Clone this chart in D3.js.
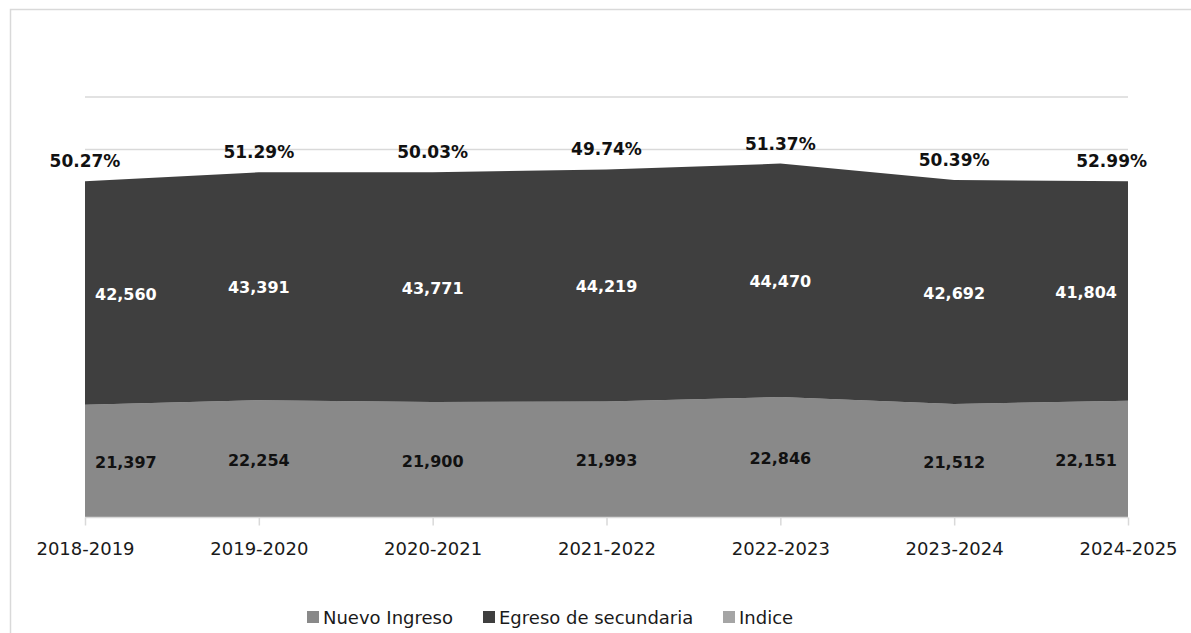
<!DOCTYPE html>
<html>
<head>
<meta charset="utf-8">
<script src="https://cdn.jsdelivr.net/npm/d3@7"></script>
<style>
  html, body { margin: 0; padding: 0; background: #fff; }
  svg { display: block; font-family: "DejaVu Sans", sans-serif; }
</style>
</head>
<body>
<svg id="chart" width="1191" height="633"></svg>
<script>
const categories = ["2018-2019", "2019-2020", "2020-2021", "2021-2022", "2022-2023", "2023-2024", "2024-2025"];
const nuevoIngreso = [21397, 22254, 21900, 21993, 22846, 21512, 22151];
const egresoSecundaria = [42560, 43391, 43771, 44219, 44470, 42692, 41804];
const indice = [50.27, 51.29, 50.03, 49.74, 51.37, 50.39, 52.99];
const seriesNames = ["Nuevo Ingreso", "Egreso de secundaria", "Indice"];
const seriesColors = ["#898989", "#3f3f3f", "#a5a5a5"];
const yTicks = [0, 10000, 20000, 30000, 40000, 50000, 60000, 70000, 80000];

const svg = d3.select("#chart");
const W = 1191, H = 633;
const plot = { left: 85, right: 1128, top: 97, bottom: 517 };

// chart border (top + left)
svg.append("path")
  .attr("d", `M10.5,${H} L10.5,9.5 L${W},9.5`)
  .attr("fill", "none").attr("stroke", "#d9d9d9").attr("stroke-width", 1.5);

const x = d3.scalePoint().domain(categories).range([plot.left, plot.right]);
const y = d3.scaleLinear().domain([0, 80000]).range([plot.bottom, plot.top]);

// gridlines
svg.append("g").selectAll("line").data(yTicks.filter(t => t > 0)).join("line")
  .attr("x1", plot.left).attr("x2", plot.right)
  .attr("y1", d => y(d)).attr("y2", d => y(d))
  .attr("stroke", "#d9d9d9").attr("stroke-width", 1.5);

const rows = categories.map((c, i) => ({ cat: c, nuevo: nuevoIngreso[i], egreso: egresoSecundaria[i], indice: indice[i] }));
const stack = d3.stack().keys(["nuevo", "egreso"]);
const layers = stack(rows);

const area = d3.area()
  .x(d => x(d.data.cat))
  .y0(d => y(d[0]))
  .y1(d => y(d[1]));

svg.append("g").selectAll("path").data(layers).join("path")
  .attr("d", area)
  .attr("fill", (d, i) => seriesColors[i]);

// x axis
const xAxis = d3.axisBottom(x).tickSize(8).tickPadding(17);
const gx = svg.append("g").attr("transform", `translate(0,${plot.bottom + 0.5})`).call(xAxis);
gx.select(".domain").attr("stroke", "#d9d9d9").attr("stroke-width", 1.5)
  .attr("d", `M${plot.left},0H${plot.right}`);
gx.selectAll(".tick line").attr("stroke", "#d9d9d9").attr("stroke-width", 1.5);
gx.selectAll(".tick text").attr("font-size", 18).attr("fill", "#1a1a1a")
  .attr("font-family", "DejaVu Sans, sans-serif");

// value labels inside bands
function clampCenter(cx, w, lo, hi) {
  return Math.max(lo + w / 2, Math.min(hi - w / 2, cx));
}
const labelsG = svg.append("g");
layers.forEach((layer, li) => {
  layer.forEach(d => {
    const t = labelsG.append("text")
      .attr("font-size", 16).attr("font-weight", "bold")
      .attr("fill", li === 1 ? "#ffffff" : "#111111")
      .attr("text-anchor", "middle")
      .text(d3.format(",")(d[1] - d[0]));
    const w = t.node().getComputedTextLength();
    const cx = clampCenter(x(d.data.cat), w, plot.left + 10, plot.right - 11);
    const cy = (y(d[0]) + y(d[1])) / 2;
    t.attr("x", cx).attr("y", cy + 7);
  });
});

// Indice labels above the stack
layers[1].forEach((d, i) => {
  const t = labelsG.append("text")
    .attr("font-size", 17).attr("font-weight", "bold")
    .attr("fill", "#111111").attr("text-anchor", "middle")
    .text(d3.format(".2f")(rows[i].indice) + "%");
  const w = t.node().getComputedTextLength();
  const cx = clampCenter(x(d.data.cat), w, 15, 1147);
  t.attr("x", cx).attr("y", y(d[1]) - 20 + 6);
});

// legend
const legendX = [307, 483, 723];
const lg = svg.append("g");
seriesNames.forEach((name, i) => {
  lg.append("rect").attr("x", legendX[i]).attr("y", 611).attr("width", 12).attr("height", 12)
    .attr("fill", seriesColors[i]);
  lg.append("text").attr("x", legendX[i] + 16).attr("y", 624)
    .attr("font-size", 18).attr("fill", "#1a1a1a").text(name);
});
</script>
</body>
</html>
